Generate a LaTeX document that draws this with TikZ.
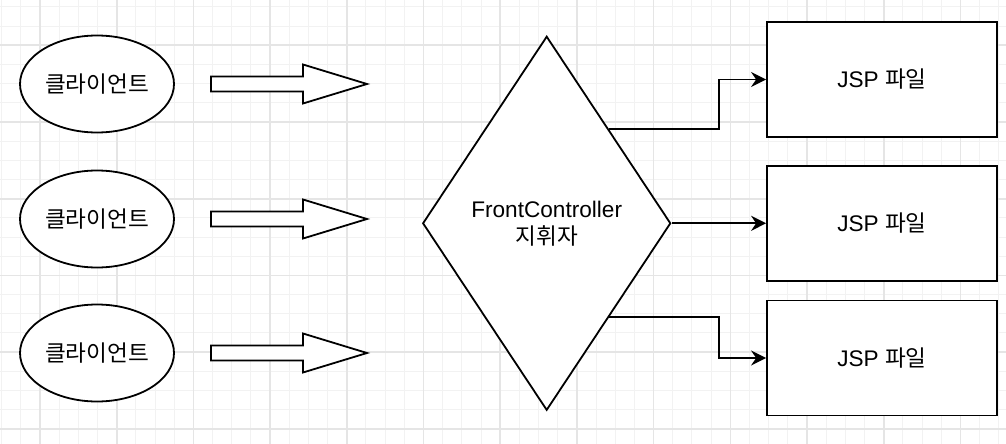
\documentclass[tikz,border=0pt]{standalone}
\usepackage{fontspec}
\setmainfont{Liberation Sans}
\newfontfamily\kr{Noto Sans CJK KR}
\usetikzlibrary{shapes.geometric,arrows.meta}

\begin{document}
\begin{tikzpicture}[x=0.5pt,y=-0.5pt,
	minor/.style={gray!10,line width=0.5pt},
	major/.style={gray!20,line width=0.8pt},
	client/.style={draw,ellipse,line width=0.9pt,fill=white,minimum width=77pt,minimum height=48.5pt,inner sep=0pt},
	jsp/.style={draw,rectangle,line width=0.9pt,fill=white,minimum width=115pt,minimum height=57.5pt,inner sep=0pt},
	ctrl/.style={draw,diamond,line width=0.9pt,fill=white,minimum width=124pt,minimum height=187pt,inner sep=0pt,align=center},
	fat/.style={draw,line width=0.9pt,fill=white},
	link/.style={line width=0.9pt,-{Stealth[length=7.5pt,width=7.5pt,inset=2.5pt]}},
	font=\fontsize{11.3}{13.5}\selectfont]
	\fill[white] (0,0) rectangle (1006,444);
	\useasboundingbox (0,0) rectangle (1006,444);
	\clip (0,0) rectangle (1006,444);
	% grid
	\foreach \i in {-2,...,50} \draw[minor] ({40+19.175*\i},0) -- ({40+19.175*\i},444);
	\foreach \i in {-3,...,20} \draw[minor] (0,{45.3+19.175*\i}) -- (1006,{45.3+19.175*\i});
	\foreach \i in {0,...,12} \draw[major] ({40+76.7*\i},0) -- ({40+76.7*\i},444);
	\foreach \i in {0,...,5} \draw[major] (0,{45.3+76.7*\i}) -- (1006,{45.3+76.7*\i});
	% clients and fat arrows
	\foreach \n/\y in {1/84,2/219,3/353} {
		\node[client] (cl\n) at (97,\y) {{\kr 클라이언트}};
		\draw[fat] (211,\y-7.5) -- (303,\y-7.5) -- (303,\y-19.5) -- (367,\y)
			-- (303,\y+19.5) -- (303,\y+7.5) -- (211,\y+7.5) -- cycle;
	}
	% controller
	\node[ctrl] (fc) at (546.7,223.3) {FrontController\\{\kr 지휘자}};
	% jsp files
	\foreach \n/\y in {1/79.5,2/223.3,3/358} \node[jsp] (jsp\n) at (882,\y) {JSP {\kr 파일}};
	\draw[link] (fc.north east) -- ++(110,0) |- (jsp1.west);
	\draw[link] (fc.east) -- (jsp2.west);
	\draw[link] (fc.south east) -- ++(110,0) |- (jsp3.west);
\end{tikzpicture}
\end{document}
